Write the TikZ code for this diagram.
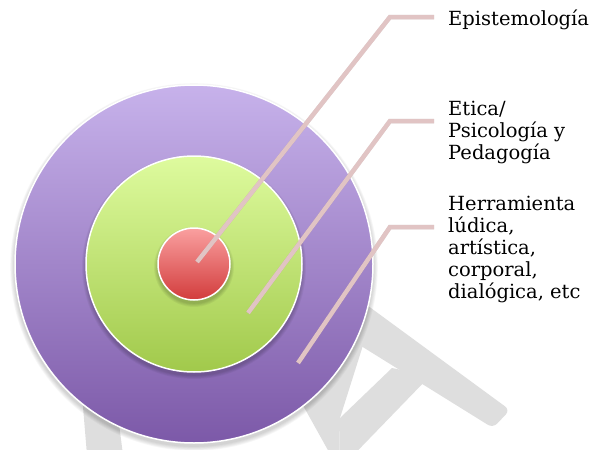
\documentclass[tikz,border=0pt]{standalone}
\usepackage{fontspec}
\setmainfont{DejaVu Serif}
\definecolor{purpleTop}{RGB}{199,178,235}
\definecolor{purpleBot}{RGB}{124,89,168}
\definecolor{greenTop}{RGB}{222,251,158}
\definecolor{greenBot}{RGB}{161,201,75}
\definecolor{redTop}{RGB}{250,160,160}
\definecolor{redBot}{RGB}{210,60,60}
\definecolor{connCol}{RGB}{225,196,196}
\definecolor{wmCol}{RGB}{222,222,222}
\begin{document}
\begin{tikzpicture}[x=1pt,y=-1pt,
  lbl/.style={anchor=base west, inner sep=0pt, align=left, font=\fontsize{19.5}{22}\selectfont},
  ring/.style={circle, inner sep=0pt, draw=white, line width=1.5pt},
  conn/.style={line width=4.5pt, draw=connCol},
  connshadow/.style={line width=4.5pt, draw=black, opacity=0.12},
  wm/.style={fill=wmCol, draw=none}]
\useasboundingbox (0,0) rectangle (600,450);
% watermark shapes
\begin{scope}
\clip (0,0) rectangle (600,450);
\fill[wm, rounded corners=6pt] (300,256) -- (510,410) -- (493,428) -- (300,308) -- cycle;
\fill[wm] (392,368) -- (430,376) -- (339,470) -- (340,418) -- cycle;
\fill[wm] (371,320) -- (340,418) -- (339,470) -- (261,330) -- cycle;
\fill[wm] (82,395) -- (87,455) -- (123,455) -- (116,400) -- cycle;
\end{scope}
% soft shadows
\foreach \k in {1,...,6}{
  \fill[black, opacity=0.03] (194,267) circle[radius={179pt+\k*0.8pt}];
}
\node[ring, minimum size=358pt, top color=purpleTop, bottom color=purpleBot] (outer) at (194,264) {};
\foreach \k in {1,...,5}{
  \fill[black, opacity=0.04] (194,267) circle[radius={108pt+\k*0.8pt}];
}
\node[ring, minimum size=216pt, top color=greenTop, bottom color=greenBot] (middle) at (194,264) {};
\foreach \k in {1,...,5}{
  \fill[black, opacity=0.04] (194,267) circle[radius={36pt+\k*0.8pt}];
}
\node[ring, minimum size=72pt, top color=redTop, bottom color=redBot] (inner) at (194,264) {};
% texts (base anchor = baseline of the last line)
\node[lbl] (t1) at (448,25) {Epistemología};
\node[lbl] (t2) at (448,159) {Etica/\\Psicología y\\Pedagogía};
\node[lbl] (t3) at (448,298) {Herramienta\\lúdica,\\artística,\\corporal,\\dialógica, etc};
% connector points
\coordinate (s1) at (197,262);
\coordinate (b1) at (390,17);
\coordinate (e1) at (434,17);
\coordinate (s2) at (248,313);
\coordinate (b2) at (390,121);
\coordinate (e2) at (434,121);
\coordinate (s3) at (298,363);
\coordinate (b3) at (390,227);
\coordinate (e3) at (434,227);
\begin{scope}[shift={(1.5,1.5)}]
\draw[connshadow] (s1) -- (b1) -- (e1);
\draw[connshadow] (s2) -- (b2) -- (e2);
\draw[connshadow] (s3) -- (b3) -- (e3);
\end{scope}
\draw[conn] (s1) -- (b1) -- (e1);
\draw[conn] (s2) -- (b2) -- (e2);
\draw[conn] (s3) -- (b3) -- (e3);
\end{tikzpicture}
\end{document}
